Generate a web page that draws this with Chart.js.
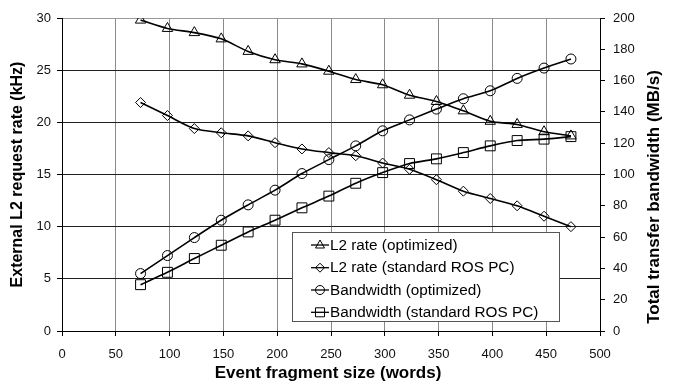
<!DOCTYPE html>
<html>
<head>
<meta charset="utf-8">
<script src="https://cdn.jsdelivr.net/npm/chart.js@4/dist/chart.umd.min.js"></script>
<style>
html, body { margin:0; padding:0; background:#fff; }
#wrap { width:675px; height:381px; }
</style>
</head>
<body>
<div id="wrap"><canvas id="chart" width="675" height="381"></canvas></div>
<script>
// event fragment size (words)
let fragSize = [73, 98, 123, 148, 173, 198, 223, 248, 273, 298, 323, 348, 373, 398, 423, 448, 473] ;
// L2 request rate (kHz) - left axis
let l2Optimized = [29.8, 29.0, 28.6, 28.0, 26.8, 26.0, 25.6, 24.9, 24.1, 23.6, 22.6, 22.0, 21.1, 20.1, 19.8, 19.1, 18.7] ;
let l2Standard  = [21.9, 20.65, 19.4, 19.0, 18.7, 18.05, 17.45, 17.1, 16.8, 16.1, 15.5, 14.5, 13.4, 12.7, 12.0, 11.0, 10.0] ;
// transfer bandwidth (MB/s) - right axis
let bwOptimized = [36.7, 48.2, 59.7, 70.8, 80.6, 90.0, 100.6, 109.5, 118.3, 127.9, 134.9, 141.8, 148.4, 153.5, 161.4, 168.0, 173.8] ;
let bwStandard  = [29.6, 37.5, 46.3, 54.8, 63.3, 70.8, 78.7, 86.2, 94.4, 101.2, 107.0, 110.0, 114.0, 118.3, 121.7, 122.6, 124.2] ;

let seriesNames = ['L2 rate (optimized)', 'L2 rate (standard ROS PC)', 'Bandwidth (optimized)', 'Bandwidth (standard ROS PC)'] ;
let xTitle = 'Event fragment size (words)' ;
let yTitle = 'External L2 request rate (kHz)' ;
let y2Title = 'Total transfer bandwidth (MB/s)' ;

const FONT = '"Liberation Sans", Arial, sans-serif' ;

function toPoints (vals) {
    return fragSize.map((x,i) => { return {x: x, y: vals[i]} ; }) ;
}

function makeSet (label, vals, axis, style, radius) {
    return {
        label: label,
        data: toPoints(vals),
        yAxisID: axis,
        borderColor: '#000',
        borderWidth: 1.6,
        tension: 0.25,
        pointStyle: style,
        pointRadius: radius,
        pointBackgroundColor: 'rgba(0,0,0,0)',
        pointBorderColor: '#000',
        pointBorderWidth: 1,
    } ;
}

// small marker shapes for the legend box
function drawMarker (ctx, style, x, y) {
    ctx.beginPath() ;
    if (style == 'triangle') {
        ctx.moveTo(x, y-5) ; ctx.lineTo(x+4.5, y+3) ; ctx.lineTo(x-4.5, y+3) ; ctx.closePath() ;
    } else if (style == 'rectRot') {
        ctx.moveTo(x, y-4.5) ; ctx.lineTo(x+4.5, y) ; ctx.lineTo(x, y+4.5) ; ctx.lineTo(x-4.5, y) ; ctx.closePath() ;
    } else if (style == 'circle') {
        ctx.arc(x, y, 4.5, 0, 2*Math.PI) ;
    } else {
        ctx.rect(x-4.5, y-4.5, 9, 9) ;
    }
    ctx.stroke() ;
}

const boxLegend = {
    id: 'boxLegend',
    afterDatasetsDraw (chart) {
        let ctx = chart.ctx ;
        ctx.save() ;
        ctx.fillStyle = '#fff' ;
        ctx.strokeStyle = '#555' ;
        ctx.lineWidth = 1 ;
        ctx.fillRect(292.5, 232.5, 267, 89) ;
        ctx.strokeRect(292.5, 232.5, 267, 89) ;
        ctx.font = '15.3px ' + FONT ;
        ctx.textBaseline = 'middle' ;
        ctx.textAlign = 'left' ;
        let rows = [245, 267.7, 290, 312.3] ;
        chart.data.datasets.forEach((ds, i) => {
            let y = rows[i] ;
            ctx.strokeStyle = '#000' ;
            ctx.lineWidth = 1.3 ;
            ctx.beginPath() ; ctx.moveTo(311, y) ; ctx.lineTo(329, y) ; ctx.stroke() ;
            ctx.lineWidth = 1 ;
            drawMarker(ctx, ds.pointStyle, 320, y) ;
            ctx.fillStyle = '#000' ;
            ctx.fillText(ds.label, 330, y+0.5) ;
        }) ;
        ctx.restore() ;
    }
} ;

const axisTitles = {
    id: 'axisTitles',
    afterDraw (chart) {
        let ctx = chart.ctx ;
        let ca = chart.chartArea ;
        let midY = (ca.top + ca.bottom) / 2 ;
        ctx.save() ;
        ctx.fillStyle = '#000' ;
        ctx.textAlign = 'center' ;
        ctx.textBaseline = 'middle' ;
        ctx.font = 'bold 17px ' + FONT ;
        ctx.fillText(xTitle, 328, 373) ;
        ctx.save() ;
        ctx.font = 'bold 16px ' + FONT ;
        ctx.translate(18, midY) ; ctx.rotate(-Math.PI/2) ;
        ctx.fillText(yTitle, 0, 0) ;
        ctx.restore() ;
        ctx.font = 'bold 17px ' + FONT ;
        ctx.translate(654, 197) ; ctx.rotate(-Math.PI/2) ;
        ctx.fillText(y2Title, 0, 0) ;
        ctx.restore() ;
    }
} ;

let tickFont = { family: FONT, size: 13 } ;

let chart = new Chart(document.getElementById('chart').getContext('2d'), {
    type: 'line',
    data: {
        datasets: [
            makeSet(seriesNames[0], l2Optimized, 'y', 'triangle', 6),
            makeSet(seriesNames[1], l2Standard, 'y', 'rectRot', 5),
            makeSet(seriesNames[2], bwOptimized, 'y2', 'circle', 5),
            makeSet(seriesNames[3], bwStandard, 'y2', 'rect', 7),
        ]
    },
    options: {
        responsive: false,
        animation: false,
        layout: { padding: { top: 18, left: 0, right: 0, bottom: 0 } },
        plugins: { legend: { display: false }, tooltip: { enabled: false } },
        scales: {
            x: {
                type: 'linear', min: 0, max: 500,
                ticks: { stepSize: 50, font: tickFont, color: '#111', padding: 11, maxRotation: 0 },
                grid: { color: '#8a8a8a', tickColor: '#000', tickLength: 5 },
                border: { color: '#000', width: 1 },
                afterFit: (s) => { s.height = 50 ; }
            },
            y: {
                position: 'left', min: 0, max: 30,
                ticks: { stepSize: 5, font: tickFont, color: '#111', padding: 6 },
                grid: { color: (c) => (c.tick && c.tick.value == 30) ? '#999' : '#222', tickColor: '#000', tickLength: 5 },
                border: { color: '#000', width: 1 },
                afterFit: (s) => { s.width = 62 ; }
            },
            y2: {
                position: 'right', min: 0, max: 200,
                ticks: { stepSize: 20, font: tickFont, color: '#111', padding: 8 },
                grid: { drawOnChartArea: false, tickColor: '#000', tickLength: 5 },
                border: { color: '#000', width: 1 },
                afterFit: (s) => { s.width = 75 ; }
            }
        }
    },
    plugins: [boxLegend, axisTitles]
}) ;
</script>
</body>
</html>
